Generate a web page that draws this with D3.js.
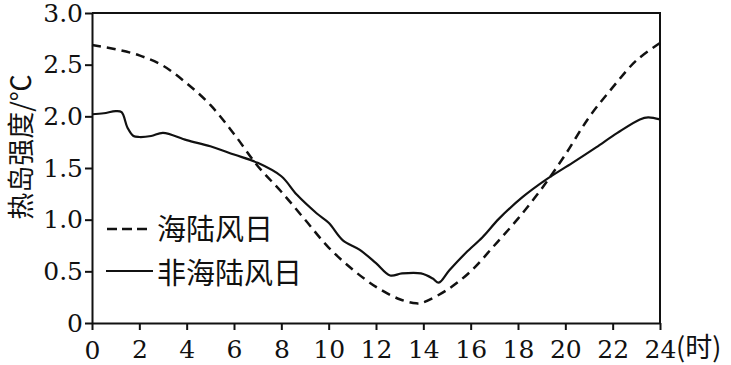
<!DOCTYPE html>
<html lang="zh">
  <head>
    <meta charset="UTF-8" />
    <title>热岛强度</title>
    <style>
      body { margin: 0; background: #fff; }
      .axis path, .axis line { stroke: #111; stroke-width: 2; }
      .axis text { font-family: 'DejaVu Serif', serif; font-size: 25px; fill: #111; }
      .cjk { font-family: 'Noto Sans CJK SC', sans-serif; fill: #111; }
    </style>
  </head>
  <script src="https://d3js.org/d3.v7.min.js"></script>
  <body>
    <div class="d3Chart"></div>
  </body>
  <script type="text/javascript">
    // 海陆风日
    const seaHours = [0, 1, 2, 3, 4, 5, 6, 7, 8, 9, 10, 11, 12, 13, 13.7, 14, 15, 16, 17, 18, 19, 20, 21, 22, 23, 24]
    const seaValues = [2.69, 2.65, 2.59, 2.49, 2.32, 2.11, 1.83, 1.52, 1.27, 1.0, 0.73, 0.52, 0.35, 0.23, 0.19, 0.2, 0.32, 0.5, 0.75, 1.01, 1.3, 1.63, 1.99, 2.28, 2.54, 2.71]
    // 非海陆风日
    const nonHours = [0, 0.5, 1, 1.25, 1.5, 1.75, 2, 2.5, 3, 4, 5, 6, 7, 8, 8.66, 9.5, 10, 10.6, 11.3, 12, 12.6, 13.1, 13.9, 14.4, 14.65, 15.1, 15.8, 16.5, 17.2, 18.2, 19.2, 20.3, 21.3, 22.2, 23.15, 23.5, 24]
    const nonValues = [2.02, 2.03, 2.05, 2.04, 1.89, 1.81, 1.8, 1.81, 1.84, 1.77, 1.71, 1.63, 1.55, 1.42, 1.24, 1.06, 0.97, 0.8, 0.71, 0.58, 0.46, 0.48, 0.48, 0.43, 0.39, 0.51, 0.68, 0.83, 1.01, 1.22, 1.39, 1.55, 1.7, 1.84, 1.97, 1.99, 1.97]

    const xTicks = [0, 2, 4, 6, 8, 10, 12, 14, 16, 18, 20, 22, 24]
    const yTicks = [0, 0.5, 1.0, 1.5, 2.0, 2.5, 3.0]
    const legendLabels = ['海陆风日', '非海陆风日']

    // 画布
    const width = 731
    const height = 365
    const plotLeft = 92
    const plotRight = 660
    const plotTop = 13
    const plotBottom = 323

    const svg = d3.select('.d3Chart').append('svg').attr('width', width).attr('height', height)

    const x = d3.scaleLinear().domain([0, 24]).range([plotLeft, plotRight])
    const y = d3.scaleLinear().domain([0, 3]).range([plotBottom, plotTop])

    // 坐标轴
    svg
      .append('g')
      .attr('class', 'axis')
      .attr('transform', `translate(0, ${plotBottom})`)
      .call(d3.axisBottom(x).tickValues(xTicks).tickSize(7).tickSizeOuter(0).tickPadding(8))
      .call((g) => g.selectAll('.tick text').attr('dy', (d) => (d === 0 ? '0.84em' : '0.78em')))

    svg
      .append('g')
      .attr('class', 'axis')
      .attr('transform', `translate(${plotLeft}, 0)`)
      .call(
        d3
          .axisLeft(y)
          .tickValues(yTicks)
          .tickSize(7)
          .tickSizeOuter(0)
          .tickPadding(2)
          .tickFormat((d) => (d === 0 ? '0' : d3.format('.1f')(d)))
      )

    // 边框
    svg
      .append('path')
      .attr('d', `M${x(0)},${y(3)}H${x(24)}V${y(0)}`)
      .attr('fill', 'none')
      .attr('stroke', '#111')
      .attr('stroke-width', 2)

    // 曲线
    const line = d3
      .line()
      .x((d) => x(d[0]))
      .y((d) => y(d[1]))
      .curve(d3.curveCatmullRom)

    svg
      .append('path')
      .datum(d3.zip(seaHours, seaValues))
      .attr('d', line)
      .attr('fill', 'none')
      .attr('stroke', '#111')
      .attr('stroke-width', 2.5)
      .attr('stroke-dasharray', '9,6')

    svg
      .append('path')
      .datum(d3.zip(nonHours, nonValues))
      .attr('d', line)
      .attr('fill', 'none')
      .attr('stroke', '#111')
      .attr('stroke-width', 2.2)

    // 图例
    const legend = svg.append('g')
    legend
      .append('line')
      .attr('x1', 107)
      .attr('x2', 148)
      .attr('y1', 229)
      .attr('y2', 229)
      .attr('stroke', '#111')
      .attr('stroke-width', 2.5)
      .attr('stroke-dasharray', '10,5')
    legend
      .append('line')
      .attr('x1', 106)
      .attr('x2', 153)
      .attr('y1', 271)
      .attr('y2', 271)
      .attr('stroke', '#111')
      .attr('stroke-width', 2.2)
    legend
      .selectAll('text')
      .data(legendLabels)
      .join('text')
      .attr('class', 'cjk')
      .attr('x', 157)
      .attr('y', (d, i) => 230 + i * 44)
      .attr('dy', '0.36em')
      .style('font-size', '29px')
      .text((d) => d)

    // 单位
    svg
      .append('text')
      .attr('class', 'cjk')
      .attr('x', 676)
      .attr('y', 357)
      .style('font-size', '27px')
      .text('(时)')

    svg
      .append('text')
      .attr('class', 'cjk')
      .attr('transform', 'translate(31, 147) rotate(-90)')
      .attr('text-anchor', 'middle')
      .style('font-size', '27px')
      .text('热岛强度/℃')
  </script>
</html>
